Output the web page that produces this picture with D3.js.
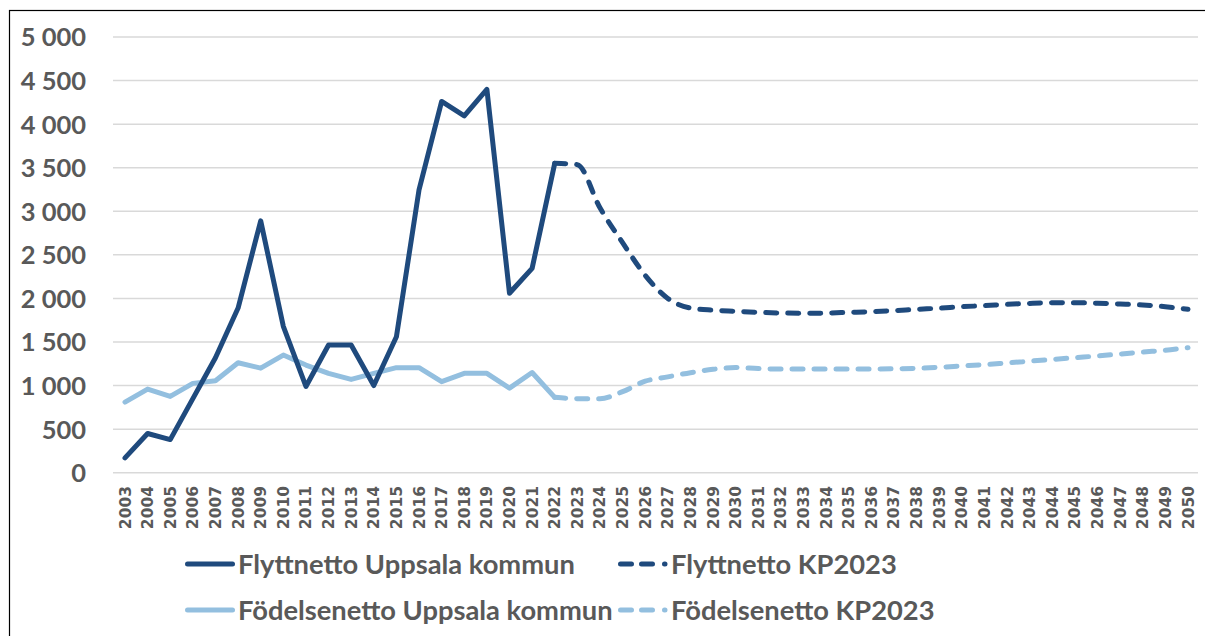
<!DOCTYPE html>
<html>
<head>
<meta charset="utf-8">
<script src="https://cdn.jsdelivr.net/npm/d3@7"></script>
<style>
  html, body { margin: 0; padding: 0; background: #fff; }
  svg { display: block; }
</style>
</head>
<body>
<svg id="chart" width="1205" height="636"></svg>
<script>
// ---- data ----
const years = [2003,2004,2005,2006,2007,2008,2009,2010,2011,2012,2013,2014,2015,2016,2017,2018,2019,2020,2021,2022,
  2023,2024,2025,2026,2027,2028,2029,2030,2031,2032,2033,2034,2035,2036,2037,2038,2039,2040,2041,2042,2043,2044,2045,2046,2047,2048,2049,2050];
const histYears = [2003,2004,2005,2006,2007,2008,2009,2010,2011,2012,2013,2014,2015,2016,2017,2018,2019,2020,2021,2022];
const projYears = [2022,2023,2024,2025,2026,2027,2028,2029,2030,2031,2032,2033,2034,2035,2036,2037,2038,2039,2040,2041,2042,2043,2044,2045,2046,2047,2048,2049,2050];

const flyttHist = [170, 450, 380, 850, 1320, 1890, 2890, 1680, 990, 1465, 1465, 1000, 1560, 3245, 4260, 4095, 4400, 2060, 2345, 3550];
const fodHist   = [810, 960, 875, 1025, 1055, 1262, 1200, 1350, 1235, 1140, 1070, 1140, 1205, 1205, 1045, 1140, 1140, 970, 1150, 865];
const flyttProj = [3550, 3535, 3040, 2640, 2265, 2000, 1890, 1865, 1852, 1840, 1833, 1829, 1832, 1840, 1848, 1860, 1875, 1888, 1905, 1917, 1932, 1943, 1950, 1951, 1945, 1936, 1925, 1905, 1875];
const fodProj   = [865, 850, 850, 930, 1050, 1100, 1148, 1186, 1207, 1195, 1190, 1190, 1190, 1190, 1190, 1192, 1198, 1210, 1225, 1240, 1260, 1280, 1300, 1320, 1340, 1362, 1385, 1405, 1435];

const yTicks = [0, 500, 1000, 1500, 2000, 2500, 3000, 3500, 4000, 4500, 5000];
const seriesNames = ["Flyttnetto Uppsala kommun", "Flyttnetto KP2023", "Födelsenetto Uppsala kommun", "Födelsenetto KP2023"];

// ---- styles ----
const darkBlue = "#1f4a7d";
const lightBlue = "#93bfdf";
const textColor = "#595959";
const gridColor = "#d9d9d9";
const dash = "11 11";

const svg = d3.select("#chart");

// frame
svg.append("rect")
  .attr("x", 9.5).attr("y", 10.5)
  .attr("width", 1300).attr("height", 700)
  .attr("fill", "none").attr("stroke", "#000").attr("stroke-width", 1.2);

const x = d3.scalePoint().domain(years).range([125, 1188]);
const y = d3.scaleLinear().domain([0, 5000]).range([472.7, 37]);

// gridlines
svg.append("g")
  .selectAll("line")
  .data(yTicks)
  .join("line")
  .attr("x1", 113).attr("x2", 1198)
  .attr("y1", d => y(d)).attr("y2", d => y(d))
  .attr("stroke", gridColor).attr("stroke-width", 1.5);

// y axis labels
const fmt = d => d3.format(",")(d).replace(/,/g, " ");
const yAxis = d3.axisLeft(y).tickValues(yTicks).tickFormat(fmt).tickSize(0).tickPadding(0);
const yg = svg.append("g").attr("transform", "translate(86,0)").call(yAxis);
yg.select(".domain").remove();
yg.selectAll("text")
  .attr("fill", textColor)
  .attr("font-family", "Lato, 'Open Sans', sans-serif")
  .attr("font-weight", "bold")
  .attr("font-size", "25.5px")
  .attr("dy", "0.35em");

// x axis labels
const xAxis = d3.axisBottom(x).tickSize(0).tickPadding(0);
const xg = svg.append("g").attr("transform", "translate(0,486)").call(xAxis);
xg.select(".domain").remove();
xg.selectAll("text")
  .attr("fill", textColor)
  .attr("font-family", "'DejaVu Sans', sans-serif")
  .attr("font-weight", "bold")
  .attr("font-size", "15.5px")
  .attr("text-anchor", "end")
  .attr("dominant-baseline", "central")
  .attr("transform", "rotate(-90)")
  .attr("x", 0).attr("y", 0).attr("dy", null);

// lines
const lineHist = d3.line().x(d => x(d[0])).y(d => y(d[1]));
const lineProj = d3.line().x(d => x(d[0])).y(d => y(d[1])).curve(d3.curveMonotoneX);

const zip = (a, b) => a.map((v, i) => [v, b[i]]);

svg.append("path").datum(zip(projYears, fodProj))
  .attr("d", lineProj).attr("fill", "none")
  .attr("stroke", lightBlue).attr("stroke-width", 5)
  .attr("stroke-dasharray", dash).attr("stroke-linecap", "round");
svg.append("path").datum(zip(histYears, fodHist))
  .attr("d", lineHist).attr("fill", "none")
  .attr("stroke", lightBlue).attr("stroke-width", 5)
  .attr("stroke-linejoin", "round").attr("stroke-linecap", "round");
svg.append("path").datum(zip(projYears, flyttProj))
  .attr("d", lineProj).attr("fill", "none")
  .attr("stroke", darkBlue).attr("stroke-width", 5)
  .attr("stroke-dasharray", dash).attr("stroke-linecap", "round");
svg.append("path").datum(zip(histYears, flyttHist))
  .attr("d", lineHist).attr("fill", "none")
  .attr("stroke", darkBlue).attr("stroke-width", 5)
  .attr("stroke-linejoin", "round").attr("stroke-linecap", "round");

// legend
const legendItems = [
  { name: seriesNames[0], color: darkBlue, dashed: false, lx: 185, ly: 564 },
  { name: seriesNames[1], color: darkBlue, dashed: true,  lx: 618, ly: 564 },
  { name: seriesNames[2], color: lightBlue, dashed: false, lx: 185, ly: 610 },
  { name: seriesNames[3], color: lightBlue, dashed: true,  lx: 618, ly: 610 }
];
const lg = svg.append("g");
legendItems.forEach(it => {
  lg.append("line")
    .attr("x1", it.lx + 2.5).attr("x2", it.lx + 47.5)
    .attr("y1", it.ly).attr("y2", it.ly)
    .attr("stroke", it.color).attr("stroke-width", 5)
    .attr("stroke-linecap", "round")
    .attr("stroke-dasharray", it.dashed ? "11 10 11 12 0.5 60" : null);
  lg.append("text")
    .attr("x", it.lx + 53).attr("y", it.ly + 9.5)
    .attr("fill", textColor)
    .attr("font-family", "Lato, 'Open Sans', sans-serif")
    .attr("font-weight", "bold")
    .attr("font-size", "27.3px")
    .text(it.name);
});
</script>
</body>
</html>
